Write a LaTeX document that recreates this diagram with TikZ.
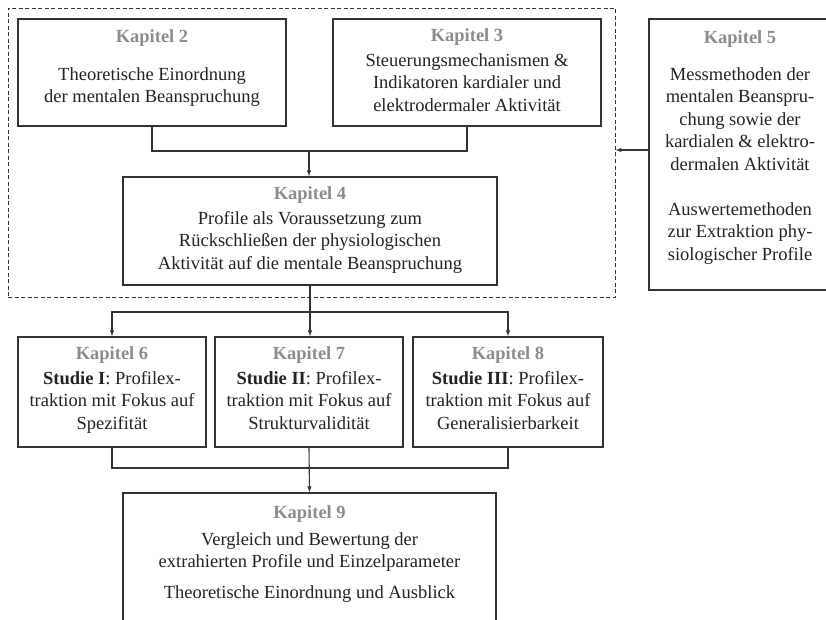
\documentclass[tikz,border=0pt]{standalone}
\usepackage{fontspec}
\setmainfont{Liberation Serif}
\usetikzlibrary{arrows.meta}
\definecolor{ink}{HTML}{222222}
\definecolor{ttl}{HTML}{8C8C8C}
\definecolor{frame}{HTML}{333333}
\tikzset{
  chapbox/.style={draw=frame, line width=1.1pt, rectangle, inner sep=0pt},
  grpbox/.style={draw=frame, line width=0.8pt, dash pattern=on 4pt off 2.5pt, rectangle, inner sep=0pt},
  txt/.style={anchor=base, align=center, inner sep=0pt, text=ink, font=\fontsize{18.5}{22.5}\selectfont},
  conn/.style={draw=frame, line width=1.1pt},
  arr/.style={conn, -{Latex[length=6pt,width=4.5pt]}},
}
\newcommand{\kap}[1]{\textcolor{ttl}{\bfseries Kapitel #1}}
\begin{document}
\begin{tikzpicture}[x=1pt,y=-1pt]
\useasboundingbox (0,0) rectangle (826,620);
% group
\node[grpbox, minimum width=607pt, minimum height=289pt] (grp) at (311.5,152.5) {};
% boxes
\node[chapbox, minimum width=268pt, minimum height=107pt] (k2) at (152,72.5) {};
\node[chapbox, minimum width=268pt, minimum height=107pt] (k3) at (467,72.5) {};
\node[chapbox, minimum width=374pt, minimum height=108pt] (k4) at (310,231) {};
\node[chapbox, minimum width=182pt, minimum height=271pt] (k5) at (740,154.5) {};
\node[chapbox, minimum width=188pt, minimum height=110pt] (k6) at (112,392) {};
\node[chapbox, minimum width=188pt, minimum height=110pt] (k7) at (309,392) {};
\node[chapbox, minimum width=190pt, minimum height=110pt] (k8) at (508,392) {};
\node[chapbox, minimum width=373pt, minimum height=147pt] (k9) at (309.5,566.5) {};
% texts (anchor = baseline of last line)
\node[txt] (t2) at ([yshift=-84.5pt]k2.north) {\kap{2}\\[15.5pt]Theoretische Einordnung\\der mentalen Beanspruchung};
\node[txt] (t3) at ([yshift=-93pt]k3.north) {\kap{3}\\[2.5pt]Steuerungsmechanismen \&\\Indikatoren kardialer und\\elektrodermaler Aktivität};
\node[txt] (t4) at ([yshift=-93pt]k4.north) {\kap{4}\\[2.5pt]Profile als Voraussetzung zum\\Rückschließen der physiologischen\\Aktivität auf die mentale Beanspruchung};
\node[txt] (t5) at ([yshift=-242pt]k5.north) {\kap{5}\\[14.5pt]Messmethoden der\\mentalen Beanspru-\\chung sowie der\\kardialen \& elektro-\\dermalen Aktivität\\[22.5pt]Auswertemethoden\\zur Extraktion phy-\\siologischer Profile};
\node[txt] (t6) at ([yshift=-93pt]k6.north) {\kap{6}\\[2.5pt]\textbf{Studie I}: Profilex-\\traktion mit Fokus auf\\Spezifität};
\node[txt] (t7) at ([yshift=-93pt]k7.north) {\kap{7}\\[2.5pt]\textbf{Studie II}: Profilex-\\traktion mit Fokus auf\\Strukturvalidität};
\node[txt] (t8) at ([yshift=-93pt]k8.north) {\kap{8}\\[2.5pt]\textbf{Studie III}: Profilex-\\traktion mit Fokus auf\\Generalisierbarkeit};
\node[txt] (t9) at ([yshift=-106.5pt]k9.north) {\kap{9}\\[4.5pt]Vergleich und Bewertung der\\extrahierten Profile und Einzelparameter\\[8.5pt]Theoretische Einordnung und Ausblick};
% connectors
\coordinate (j1) at (309,151);
\draw[conn] (k2.south) |- (j1);
\draw[conn] (k3.south) |- (j1);
\draw[arr] (j1) -- (j1 |- k4.north);
\coordinate (j2) at (310,312);
\draw[conn] (k4.south) -- (j2);
\draw[arr] (j2) -| (k6.north);
\draw[arr] (j2) -| (k8.north);
\draw[arr] (j2) -- (j2 |- k7.north);
\coordinate (j3) at (309,468);
\draw[conn] (k6.south) |- (j3);
\draw[conn] (k8.south) |- (j3);
\draw[arr] (k7.south) -- (k9.north);
\coordinate (a5) at ([yshift=4.5pt]k5.west);
\draw[arr] (a5) -- (a5 -| grp.east);
\end{tikzpicture}
\end{document}
